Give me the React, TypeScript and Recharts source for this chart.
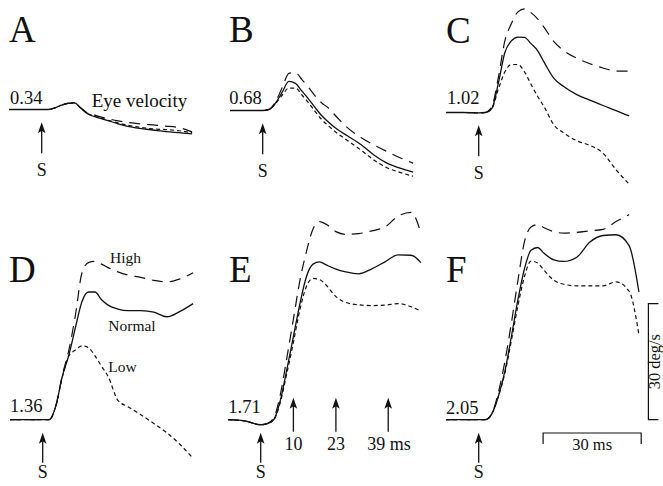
import { LineChart, Line, XAxis, YAxis, ReferenceLine } from "recharts";

// sample times (ms after stimulus onset)
const times = [-10, -5, 0, 2, 4, 6, 8, 10, 12, 14, 16, 18, 20, 23, 26, 30, 34, 38, 42, 46, 49];

// eye velocity relative to the pre-stimulus value (deg/s)
const aNormal = [0, 0, 0, 0, 0.4, 1.1, 1.6, 1.7, 0.3, -1.1, -1.8, -2.3, -2.8, -3.6, -4.3, -4.9, -5.3, -5.7, -6.0, -6.3, null];
const aHigh = [0, 0, 0, 0, 0.4, 1.1, 1.6, 1.7, 0.4, -0.9, -1.4, -1.9, -2.3, -2.9, -3.3, -3.7, -4.0, -4.3, -4.7, -5.8, null];
const aLow = [0, 0, 0, 0, 0.4, 1.1, 1.6, 1.7, 0.3, -1.0, -1.7, -2.2, -2.7, -3.4, -4.0, -4.6, -5.0, -5.2, -5.5, -6.0, null];

const bNormal = [0, 0, 0, 0.3, 2.0, 4.8, 7.5, 7.0, 5.0, 3.0, 0.8, -1.3, -2.9, -5.0, -6.6, -8.8, -11.5, -13.6, -14.9, -15.9, null];
const bHigh = [0, 0, 0, 0.3, 2.4, 6.0, 9.6, 9.8, 8.0, 6.0, 3.8, 2.0, 0.7, -2.0, -4.5, -7.0, -8.9, -10.6, -12.2, -13.6, null];
const bLow = [0, 0, 0, 0.3, 1.8, 4.0, 5.8, 5.8, 4.0, 2.0, -0.2, -2.3, -3.9, -6.0, -7.8, -10.2, -12.8, -14.8, -16.0, -17.0, null];

const cNormal = [0, 0, -0.1, 0, 1.0, 7.5, 15.5, 18.5, 19.5, 19.4, 17.8, 16.0, 13.0, 8.8, 6.7, 4.6, 3.2, 1.8, 0.5, -0.9, null];
const cHigh = [0, 0, -0.1, 0, 1.5, 9.0, 18.5, 23.0, 26.0, 26.8, 25.8, 24.2, 22.0, 18.3, 16.0, 14.0, 12.6, 11.5, 10.7, 10.7, null];
const cLow = [0, 0, -0.1, 0, 1.0, 6.0, 10.5, 12.4, 12.4, 10.5, 7.3, 4.2, 1.5, -3.2, -5.3, -7.3, -8.5, -10.5, -14.8, -18.5, null];

const dNormal = [0, 0, 0, 0, 3.5, 11.2, 16.7, 23.8, 30.5, 33.0, 33.0, 31.0, 29.6, 28.6, 28.2, 28.2, 27.8, 26.6, 28.0, 30.0, null];
const dHigh = [0, 0, 0, 0, 3.5, 11.5, 18.0, 27.0, 37.9, 40.6, 40.9, 40.2, 39.3, 38.2, 37.4, 36.8, 36.0, 35.6, 36.4, 38.0, null];
const dLow = [0, 0, 0, 0, 3.5, 11.0, 16.5, 18.0, 19.1, 18.6, 16.5, 13.8, 11.2, 5.0, 3.4, 1.3, -1.0, -3.4, -6.4, -10.0, null];

const eNormal = [0, -0.3, -1.3, -1.0, 0, 5.0, 13.0, 21.5, 30.0, 37.0, 40.2, 40.8, 40.0, 38.9, 38.2, 37.7, 39.0, 40.8, 42.6, 42.5, 40.6];
const eHigh = [0, -0.3, -1.3, -1.0, 0.5, 6.5, 16.0, 26.0, 36.0, 43.5, 49.3, 51.2, 50.5, 48.6, 47.9, 48.1, 48.8, 49.8, 52.6, 53.6, 48.2];
const eLow = [0, -0.3, -1.3, -1.0, 0, 4.5, 12.0, 20.0, 28.5, 34.5, 36.5, 36.2, 34.8, 31.8, 30.3, 29.7, 29.5, 29.6, 30.0, 29.2, 28.0];

const fNormal = [0, 0, 0, 0, 1.5, 6.0, 12.5, 21.5, 31.0, 39.0, 43.8, 44.5, 43.0, 41.3, 40.9, 42.0, 45.9, 47.6, 47.8, 45.0, 33.0];
const fHigh = [0, 0, 0, 0, 1.5, 7.0, 15.0, 25.0, 36.0, 46.0, 49.8, 50.4, 49.6, 48.6, 48.2, 48.4, 48.8, 49.2, 51.2, 53.0, null];
const fLow = [0, 0, 0, 0, 1.5, 6.0, 12.0, 20.5, 29.5, 37.0, 41.0, 40.5, 38.6, 36.0, 35.0, 34.6, 34.6, 34.6, 35.6, 33.2, 22.0];

const letters = ["A", "B", "C", "D", "E", "F"];
const speeds = ["0.34", "0.68", "1.02", "1.36", "1.71", "2.05"];
const markTimes = [10, 23, 39];
const SCALE_MS = 30;
const SCALE_DEG = 30;

// drawing scale shared by every panel
const PX_MS = 3.27;
const PX_DEG = 3.87;
const T_MIN = -10;
const T_MAX = 57;
const ROWS = [
  { vMin: -22, vMax: 27 },
  { vMin: -16, vMax: 56 },
];

const layout = [
  { sx: 42, base: 109, row: 0, normal: aNormal, high: aHigh, low: aLow },
  { sx: 263, base: 110.7, row: 0, normal: bNormal, high: bHigh, low: bLow },
  { sx: 478.7, base: 112, row: 0, normal: cNormal, high: cHigh, low: cLow },
  { sx: 42.3, base: 420, row: 1, normal: dNormal, high: dHigh, low: dLow },
  { sx: 261, base: 420, row: 1, normal: eNormal, high: eHigh, low: eLow },
  { sx: 478.7, base: 420, row: 1, normal: fNormal, high: fHigh, low: fLow },
];

const INK = "#111";
const serif = { fontFamily: "Liberation Serif, Times New Roman, serif" };

function Arrow(props: any) {
  const { x1, y1, y2, label, gap, labelDx = 0, anchor = "middle" } = props;
  if (x1 == null) return null;
  const tip = Math.min(y1, y2);
  const end = Math.max(y1, y2);
  return (
    <g>
      <line x1={x1} y1={tip + 6} x2={x1} y2={end} stroke={INK} strokeWidth={1.3} />
      <path d={`M${x1},${tip} L${x1 - 3.8},${tip + 11} L${x1},${tip + 8.5} L${x1 + 3.8},${tip + 11} Z`} fill={INK} />
      {label && (
        <text x={x1 + labelDx} y={end + gap} textAnchor={anchor} style={serif} fontSize={18} fill={INK}>
          {label}
        </text>
      )}
    </g>
  );
}

function TimeBar(props: any) {
  const { x1, y1, x2 } = props;
  if (x1 == null) return null;
  return (
    <g>
      <path d={`M${x1},${y1 + 11} L${x1},${y1} L${x2},${y1} L${x2},${y1 + 11}`} fill="none" stroke={INK} strokeWidth={1.2} />
      <text x={(x1 + x2) / 2} y={y1 + 17} textAnchor="middle" style={serif} fontSize={16.5} fill={INK}>
        {SCALE_MS} ms
      </text>
    </g>
  );
}

function VelocityBar(props: any) {
  const { x1, y1, y2 } = props;
  if (x1 == null) return null;
  const top = Math.min(y1, y2);
  const bottom = Math.max(y1, y2);
  return (
    <g>
      <path d={`M${x1 + 10},${top} L${x1},${top} L${x1},${bottom} L${x1 + 10},${bottom}`} fill="none" stroke={INK} strokeWidth={1.2} />
      <text
        transform={`translate(${x1 + 11.5},${(top + bottom) / 2}) rotate(-90)`}
        textAnchor="middle"
        style={serif}
        fontSize={16.5}
        fill={INK}
      >
        {SCALE_DEG} deg/s
      </text>
    </g>
  );
}

function Panel({ index }: { index: number }) {
  const p = layout[index];
  const { vMin, vMax } = ROWS[p.row];
  const width = (T_MAX - T_MIN) * PX_MS;
  const height = (vMax - vMin) * PX_DEG;
  const left = p.sx + T_MIN * PX_MS;
  const top = p.base - vMax * PX_DEG;
  const data = times.map((t, i) => ({ t, normal: p.normal[i], high: p.high[i], low: p.low[i] }));
  const arrowTip = p.row === 0 ? -3.3 : -3.4;
  const arrowEnd = p.row === 0 ? -11.3 : -11.1;
  const sGap = p.row === 0 ? 23 : 15;

  return (
    <div style={{ position: "absolute", left, top }}>
      <LineChart width={width} height={height} data={data} margin={{ top: 0, right: 0, bottom: 0, left: 0 }}>
        <XAxis dataKey="t" type="number" domain={[T_MIN, T_MAX]} hide allowDataOverflow />
        <YAxis type="number" domain={[vMin, vMax]} hide allowDataOverflow />
        <Line dataKey="high" type="monotone" stroke={INK} strokeWidth={1.2} strokeDasharray="11 7" dot={false} isAnimationActive={false} />
        <Line dataKey="low" type="monotone" stroke={INK} strokeWidth={1.2} strokeDasharray="4 3" dot={false} isAnimationActive={false} />
        <Line dataKey="normal" type="monotone" stroke={INK} strokeWidth={1.3} dot={false} isAnimationActive={false} />
        <ReferenceLine
          segment={[{ x: 0, y: arrowTip }, { x: 0, y: arrowEnd }]}
          shape={(s: any) => <Arrow {...s} label="S" gap={sGap} />}
        />
        {index === 4 &&
          markTimes.map((m, i) => (
            <ReferenceLine
              key={m}
              segment={[{ x: m, y: 5.7 }, { x: m, y: -3.1 }]}
              shape={(s: any) => (
                <Arrow
                  {...s}
                  label={i === markTimes.length - 1 ? `${m} ms` : `${m}`}
                  gap={18}
                  labelDx={i === markTimes.length - 1 ? -21 : 0}
                  anchor={i === markTimes.length - 1 ? "start" : "middle"}
                />
              )}
            />
          ))}
        {index === 5 && (
          <ReferenceLine
            segment={[{ x: 19.7, y: -3.44 }, { x: 19.7 + SCALE_MS, y: -3.44 }]}
            shape={(s: any) => <TimeBar {...s} />}
          />
        )}
        {index === 5 && (
          <ReferenceLine
            segment={[{ x: 51.9, y: 0 }, { x: 51.9, y: SCALE_DEG }]}
            shape={(s: any) => <VelocityBar {...s} />}
          />
        )}
      </LineChart>
    </div>
  );
}

const letterPos = [
  [9, 42],
  [229, 42],
  [446, 43],
  [9, 281.5],
  [229, 282.3],
  [446, 282.3],
];
const speedPos = [
  [10, 103.5],
  [229.3, 103.5],
  [447, 103.5],
  [10, 412],
  [228.3, 413],
  [446, 414],
];

export default function App() {
  return (
    <div style={{ position: "absolute", left: 0, top: 0, width: 663, height: 486, background: "#fff", overflow: "hidden" }}>
      {layout.map((_, i) => (
        <Panel key={i} index={i} />
      ))}
      <svg width={663} height={486} style={{ position: "absolute", left: 0, top: 0, pointerEvents: "none" }}>
        <g style={serif} fill={INK}>
          {letters.map((l, i) => (
            <text key={l} x={letterPos[i][0]} y={letterPos[i][1]} fontSize={37}>
              {l}
            </text>
          ))}
          {speeds.map((s, i) => (
            <text key={s} x={speedPos[i][0]} y={speedPos[i][1]} fontSize={18.5}>
              {s}
            </text>
          ))}
          <text x={91.7} y={107.3} fontSize={19}>Eye velocity</text>
          <text x={110} y={263} fontSize={15.5}>High</text>
          <text x={108.3} y={330.7} fontSize={15.5}>Normal</text>
          <text x={108.3} y={371.7} fontSize={15.5}>Low</text>
        </g>
      </svg>
    </div>
  );
}
